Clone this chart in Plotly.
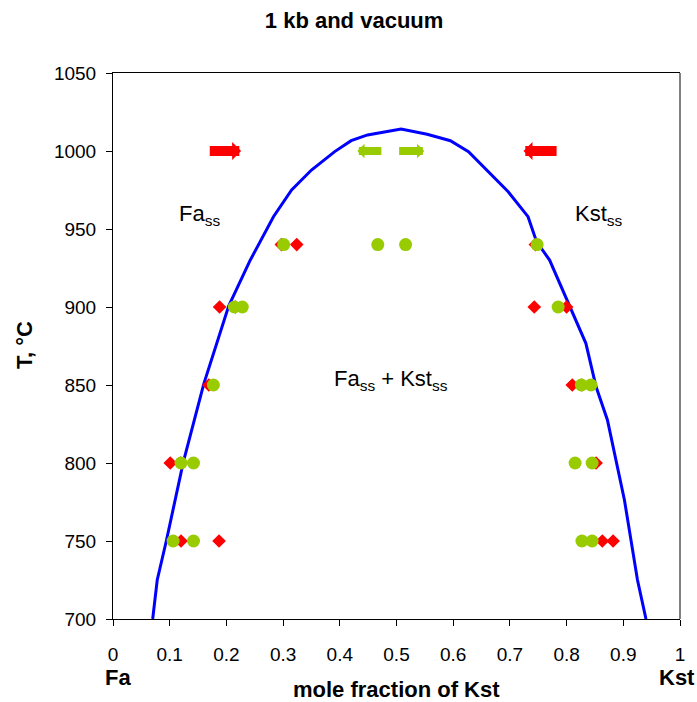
import plotly.graph_objects as go

# Solvus curve (mole fraction of Kst, temperature in deg C)
solvus_x = [0.070, 0.078, 0.094, 0.124, 0.160, 0.204, 0.242, 0.283, 0.315, 0.350,
            0.391, 0.420, 0.449, 0.508, 0.554, 0.595, 0.627, 0.659, 0.697, 0.732,
            0.747, 0.770, 0.785, 0.834, 0.852, 0.872, 0.902, 0.925, 0.940]
solvus_t = [700, 725, 750, 800.6, 850.6, 900.6, 930, 957.9, 975, 987.8,
            999.6, 1006.6, 1010.3, 1014.1, 1010.7, 1006.6, 999.6, 987.8, 973.9, 957.9,
            941.9, 930.1, 917.3, 876.7, 848.9, 827.6, 776.3, 725, 700]

# Experimental run products (red diamonds)
red_x = [0.297, 0.324, 0.745,
         0.188, 0.216, 0.743, 0.800,
         0.169, 0.810, 0.827,
         0.101, 0.119, 0.852,
         0.120, 0.187, 0.863, 0.882]
red_t = [940, 940, 940,
         900, 900, 900, 900,
         850, 850, 850,
         800, 800, 800,
         750, 750, 750, 750]

# Experimental run products (green circles)
green_x = [0.301, 0.467, 0.516, 0.748,
           0.214, 0.228, 0.785,
           0.177, 0.826, 0.843,
           0.120, 0.142, 0.815, 0.845,
           0.106, 0.142, 0.827, 0.845]
green_t = [940, 940, 940, 940,
           900, 900, 900,
           850, 850, 850,
           800, 800, 800, 800,
           750, 750, 750, 750]

# Approach-direction arrows at 1000 deg C: (tail, tip)
arrow_tail = [0.168, 0.785, 0.476, 0.502]
arrow_tip = [0.226, 0.724, 0.431, 0.549]
arrow_t = [1000, 1000, 1000, 1000]
arrow_color = ["#FF0000", "#FF0000", "#99CC00", "#99CC00"]
arrow_width = [10, 10, 8, 8]

x_ticks = [0, 0.1, 0.2, 0.3, 0.4, 0.5, 0.6, 0.7, 0.8, 0.9, 1]
t_ticks = [700, 750, 800, 850, 900, 950, 1000, 1050]

FONT = "Liberation Sans, Arial, sans-serif"

fig = go.Figure()
fig.add_trace(go.Scatter(x=solvus_x, y=solvus_t, mode="lines",
                         line=dict(color="#0000FF", width=3), hoverinfo="skip"))
fig.add_trace(go.Scatter(x=red_x, y=red_t, mode="markers",
                         marker=dict(symbol="diamond", size=10.5, color="#FF0000",
                                     line=dict(width=0))))
fig.add_trace(go.Scatter(x=green_x, y=green_t, mode="markers",
                         marker=dict(symbol="circle", size=13, color="#99CC00",
                                     line=dict(width=0))))

annotations = []
for tail, tip, t, c, w in zip(arrow_tail, arrow_tip, arrow_t, arrow_color, arrow_width):
    annotations.append(dict(x=tip, y=t, ax=tail, ay=t, xref="x", yref="y",
                            axref="x", ayref="y", text="", showarrow=True,
                            arrowhead=1, arrowsize=0.3, arrowwidth=w,
                            arrowcolor=c, standoff=0))

label_font = dict(family=FONT, size=22, color="black")
annotations += [
    dict(x=0.152, y=959, xref="x", yref="y", text="Fa<sub>ss</sub>",
         showarrow=False, font=label_font, xanchor="center", yanchor="middle"),
    dict(x=0.857, y=959, xref="x", yref="y", text="Kst<sub>ss</sub>",
         showarrow=False, font=label_font, xanchor="center", yanchor="middle"),
    dict(x=0.491, y=853, xref="x", yref="y",
         text="Fa<sub>ss</sub> + Kst<sub>ss</sub>",
         showarrow=False, font=label_font, xanchor="center", yanchor="middle"),
]

bold_font = dict(family=FONT, size=22, color="black")
annotations += [
    dict(x=-0.155, y=0.502, xref="paper", yref="paper", text="<b>T, °C</b>",
         textangle=-90, showarrow=False, font=bold_font,
         xanchor="center", yanchor="middle"),
    dict(x=0.5, y=-0.130, xref="paper", yref="paper",
         text="<b>mole fraction of Kst</b>", showarrow=False, font=bold_font,
         xanchor="center", yanchor="middle"),
    dict(x=0.009, y=-0.108, xref="paper", yref="paper", text="<b>Fa</b>",
         showarrow=False, font=bold_font, xanchor="center", yanchor="middle"),
    dict(x=0.994, y=-0.108, xref="paper", yref="paper", text="<b>Kst</b>",
         showarrow=False, font=bold_font, xanchor="center", yanchor="middle"),
]

fig.update_layout(
    width=697, height=702,
    margin=dict(l=113, r=14, t=73, b=83),
    paper_bgcolor="white", plot_bgcolor="white",
    showlegend=False,
    title=dict(text="<b>1 kb and vacuum</b>", x=0.508, xref="container",
               y=1 - 20 / 702, yref="container", xanchor="center", yanchor="middle",
               font=dict(family=FONT, size=22, color="black")),
    annotations=annotations,
    shapes=[dict(type="line", xref="paper", yref="paper", x0=1, x1=1, y0=0, y1=1,
                 line=dict(color="#808080", width=2))],
)
fig.update_xaxes(range=[0, 1], tickvals=x_ticks, ticktext=[f"{v:g}" for v in x_ticks],
                 showgrid=False, zeroline=False, showline=True, linecolor="black",
                 linewidth=1, mirror=True, ticks="outside", ticklen=6, tickcolor="black",
                 ticklabelstandoff=12,
                 tickfont=dict(family=FONT, size=19, color="black"))
fig.update_yaxes(range=[700, 1050], tickvals=t_ticks,
                 showgrid=False, zeroline=False, showline=True, linecolor="black",
                 linewidth=1, mirror=False, ticks="outside", ticklen=6, tickcolor="black",
                 ticklabelstandoff=6,
                 tickfont=dict(family=FONT, size=19, color="black"))

fig.write_html("out.html")
